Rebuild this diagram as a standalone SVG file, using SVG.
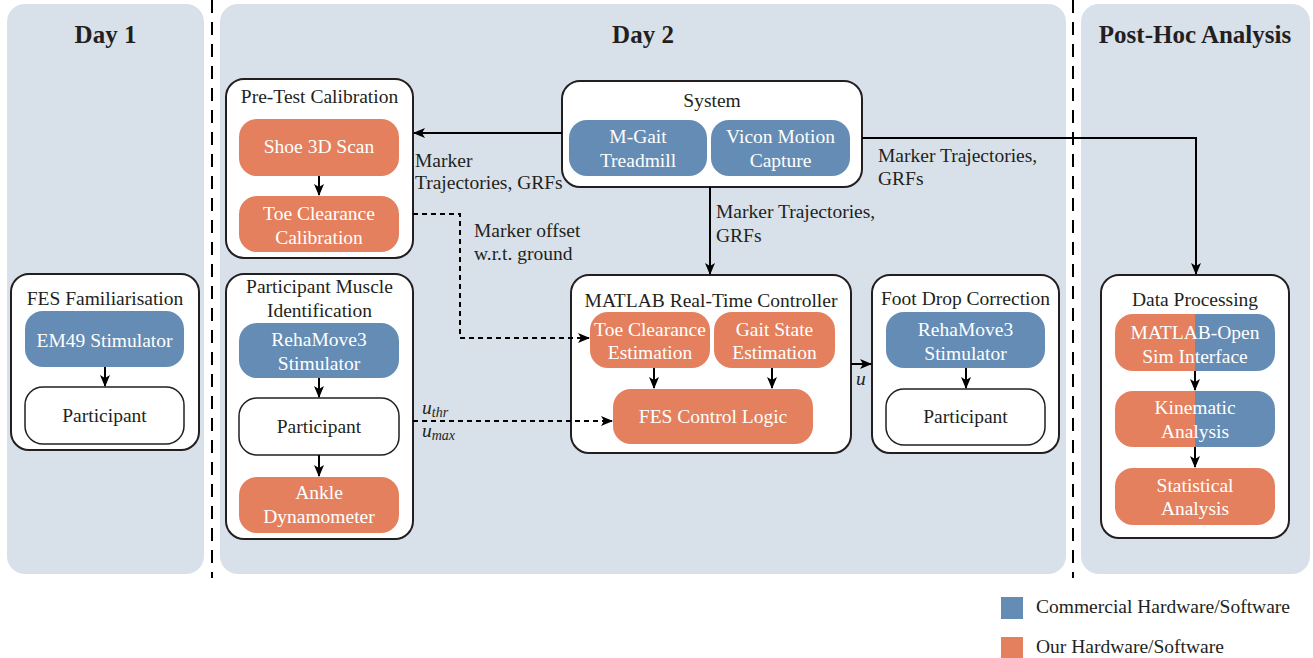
<svg xmlns="http://www.w3.org/2000/svg" width="1313" height="658" viewBox="0 0 1313 658">
<style>
text{font-family:"Liberation Serif","Times New Roman",serif;fill:#231f20;font-size:19.5px}
.hd{font-size:25px;font-weight:bold;text-anchor:middle}
.t{text-anchor:middle}
.w{fill:#fff;text-anchor:middle}
.panel{fill:#d8e1ea}
.cont{fill:#fff;stroke:#231f20;stroke-width:2}
.or{fill:#e4805d}
.bl{fill:#648cb4}
.part{fill:#fff;stroke:#231f20;stroke-width:1.5}
.ln{fill:none;stroke:#000;stroke-width:2}
.dl{fill:none;stroke:#000;stroke-width:2;stroke-dasharray:5 4}
.sep{stroke:#000;stroke-width:2;stroke-dasharray:13 9}
.m{font-style:italic}
</style>
<defs>
<marker id="ah" viewBox="0 0 12 10" refX="11" refY="5" markerWidth="6" markerHeight="5" orient="auto" markerUnits="strokeWidth">
<path d="M0,0 L12,5 L0,10 L3,5 z" fill="#000"/>
</marker>
<clipPath id="c1"><rect x="1115" y="314" width="160" height="57" rx="18"/></clipPath>
<clipPath id="c2"><rect x="1115" y="391" width="160" height="56" rx="18"/></clipPath>
</defs>

<g id="panels">
<rect class="panel" x="7" y="4" width="197" height="570" rx="18"/>
<rect class="panel" x="220" y="4" width="846" height="570" rx="18"/>
<rect class="panel" x="1081" y="4" width="229" height="570" rx="18"/>
<line class="sep" x1="212" y1="0" x2="212" y2="578"/>
<line class="sep" x1="1073" y1="0" x2="1073" y2="578"/>
<text class="hd" x="105.5" y="43">Day 1</text>
<text class="hd" x="643" y="43">Day 2</text>
<text class="hd" x="1195" y="43">Post-Hoc Analysis</text>
</g>

<g id="fes-familiarisation">
<rect class="cont" x="11" y="274" width="188" height="176" rx="18"/>
<text class="t" x="105" y="305">FES Familiarisation</text>
<rect class="bl" x="25" y="311" width="159" height="56" rx="18"/>
<text class="w" x="104.5" y="347">EM49 Stimulator</text>
<rect class="part" x="25" y="387" width="159" height="57" rx="18"/>
<text class="t" x="104.5" y="422">Participant</text>
<line class="ln" x1="105" y1="367" x2="105" y2="386" marker-end="url(#ah)"/>
</g>

<g id="pre-test-calibration">
<rect class="cont" x="226" y="79" width="187" height="179" rx="18"/>
<text class="t" x="319.5" y="103">Pre-Test Calibration</text>
<rect class="or" x="239" y="119" width="160" height="57" rx="18"/>
<text class="w" x="319" y="153">Shoe 3D Scan</text>
<rect class="or" x="239" y="196" width="160" height="56" rx="18"/>
<text class="w" x="319" y="220">Toe Clearance</text>
<text class="w" x="319" y="244">Calibration</text>
<line class="ln" x1="319" y1="176" x2="319" y2="195" marker-end="url(#ah)"/>
</g>

<g id="participant-muscle-identification">
<rect class="cont" x="226" y="274" width="187" height="265" rx="18"/>
<text class="t" x="319.5" y="293">Participant Muscle</text>
<text class="t" x="319.5" y="317">Identification</text>
<rect class="bl" x="239" y="323" width="160" height="55" rx="18"/>
<text class="w" x="319" y="346">RehaMove3</text>
<text class="w" x="319" y="370">Stimulator</text>
<rect class="part" x="239" y="398" width="160" height="57" rx="18"/>
<text class="t" x="319" y="433">Participant</text>
<rect class="or" x="239" y="477" width="160" height="56" rx="18"/>
<text class="w" x="319" y="499">Ankle</text>
<text class="w" x="319" y="523">Dynamometer</text>
<line class="ln" x1="319" y1="378" x2="319" y2="397" marker-end="url(#ah)"/>
<line class="ln" x1="319" y1="455" x2="319" y2="476" marker-end="url(#ah)"/>
</g>

<g id="system">
<rect class="cont" x="562" y="81" width="300" height="106" rx="18"/>
<text class="t" x="712" y="107">System</text>
<rect class="bl" x="569" y="120" width="138" height="56" rx="18"/>
<text class="w" x="638" y="143">M-Gait</text>
<text class="w" x="638" y="167">Treadmill</text>
<rect class="bl" x="711" y="120" width="139" height="56" rx="18"/>
<text class="w" x="780.5" y="143">Vicon Motion</text>
<text class="w" x="780.5" y="167">Capture</text>
</g>

<g id="matlab-controller">
<rect class="cont" x="571" y="275" width="280" height="178" rx="18"/>
<text class="t" x="711" y="307">MATLAB Real-Time Controller</text>
<rect class="or" x="590" y="312" width="120" height="56" rx="18"/>
<text class="w" x="650" y="336">Toe Clearance</text>
<text class="w" x="650" y="359">Estimation</text>
<rect class="or" x="714" y="312" width="121" height="56" rx="18"/>
<text class="w" x="774.5" y="336">Gait State</text>
<text class="w" x="774.5" y="359">Estimation</text>
<rect class="or" x="613" y="389" width="200" height="55" rx="18"/>
<text class="w" x="713" y="423">FES Control Logic</text>
<line class="ln" x1="654" y1="368" x2="654" y2="388" marker-end="url(#ah)"/>
<line class="ln" x1="772" y1="368" x2="772" y2="388" marker-end="url(#ah)"/>
</g>

<g id="foot-drop-correction">
<rect class="cont" x="872" y="275" width="187" height="178" rx="18"/>
<text class="t" x="965.5" y="305">Foot Drop Correction</text>
<rect class="bl" x="886" y="312" width="159" height="56" rx="18"/>
<text class="w" x="965.5" y="336">RehaMove3</text>
<text class="w" x="965.5" y="360">Stimulator</text>
<rect class="part" x="886" y="389" width="159" height="56" rx="18"/>
<text class="t" x="965.5" y="423">Participant</text>
<line class="ln" x1="966" y1="368" x2="966" y2="388" marker-end="url(#ah)"/>
</g>

<g id="data-processing">
<rect class="cont" x="1101" y="275" width="188" height="263" rx="18"/>
<text class="t" x="1195" y="306">Data Processing</text>
<g clip-path="url(#c1)">
<rect class="or" x="1115" y="314" width="80" height="57"/>
<rect class="bl" x="1195" y="314" width="80" height="57"/>
</g>
<text class="w" x="1195" y="339">MATLAB-Open</text>
<text class="w" x="1195" y="363">Sim Interface</text>
<g clip-path="url(#c2)">
<rect class="or" x="1115" y="391" width="80" height="56"/>
<rect class="bl" x="1195" y="391" width="80" height="56"/>
</g>
<text class="w" x="1195" y="414">Kinematic</text>
<text class="w" x="1195" y="438">Analysis</text>
<rect class="or" x="1115" y="468" width="160" height="57" rx="18"/>
<text class="w" x="1195" y="492">Statistical</text>
<text class="w" x="1195" y="515">Analysis</text>
<line class="ln" x1="1195" y1="371" x2="1195" y2="390" marker-end="url(#ah)"/>
<line class="ln" x1="1195" y1="447" x2="1195" y2="467" marker-end="url(#ah)"/>
</g>

<g id="connectors">
<line class="ln" x1="562" y1="133" x2="414" y2="133" marker-end="url(#ah)"/>
<text x="415" y="167">Marker</text>
<text x="415" y="189">Trajectories, GRFs</text>
<line class="ln" x1="710" y1="187" x2="710" y2="274" marker-end="url(#ah)"/>
<text x="716" y="218">Marker Trajectories,</text>
<text x="716" y="242">GRFs</text>
<polyline class="ln" points="862,138 1196,138 1196,274" marker-end="url(#ah)"/>
<text x="878" y="162">Marker Trajectories,</text>
<text x="878" y="185">GRFs</text>
<polyline class="dl" points="413,214 460,214 460,338 589,338" marker-end="url(#ah)"/>
<text x="474" y="237">Marker offset</text>
<text x="474" y="260">w.r.t. ground</text>
<line class="dl" x1="413" y1="421" x2="612" y2="421" marker-end="url(#ah)"/>
<text class="m" x="422" y="414">u<tspan font-size="14" dy="3">thr</tspan></text>
<text class="m" x="422" y="437">u<tspan font-size="14" dy="3">max</tspan></text>
<line class="ln" x1="851" y1="364" x2="871" y2="364" marker-end="url(#ah)"/>
<text class="m" x="856" y="385">u</text>
</g>

<g id="legend">
<rect class="bl" x="1001" y="597" width="22" height="22"/>
<text x="1036" y="613">Commercial Hardware/Software</text>
<rect class="or" x="1001" y="637" width="22" height="22"/>
<text x="1036" y="653">Our Hardware/Software</text>
</g>
</svg>
